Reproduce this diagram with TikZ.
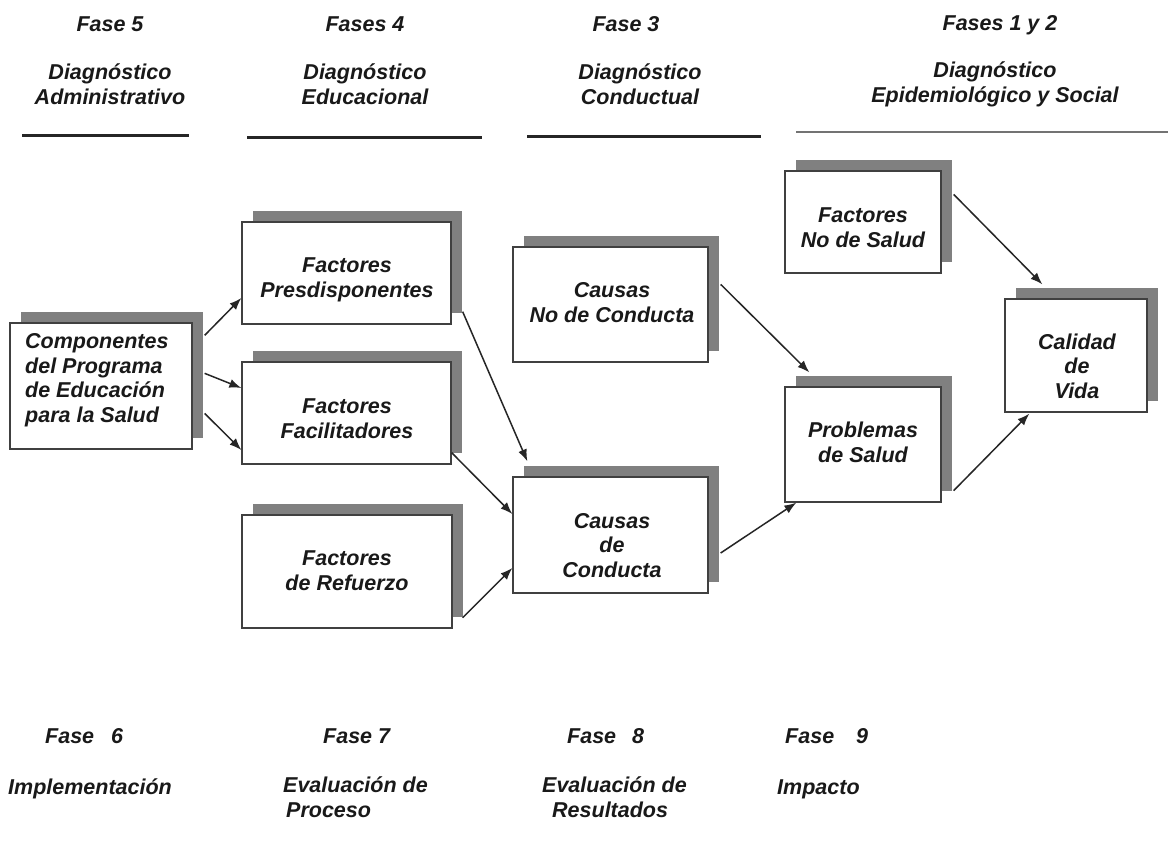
\documentclass[tikz,border=0pt]{standalone}
\usepackage{fontspec}
\setmainfont{Liberation Sans}
\usetikzlibrary{shadows,arrows.meta,calc}
\begin{document}
\begin{tikzpicture}[x=1pt,y=-1pt,
  txt/.style={font=\fontsize{21.5}{24.5}\selectfont\bfseries\itshape, inner sep=0pt, text=black!90},
  box/.style={draw=black!75, line width=1.3pt, fill=white, inner sep=0pt,
    general shadow={fill=black!50, shadow xshift=11pt, shadow yshift=11pt}},
  arr/.style={line width=1.5pt, draw=black!85, -{Latex[length=12pt,width=9pt]}},
  rulebar/.style={line width=3pt, draw=black!85},
]
\useasboundingbox (0,0) rectangle (1168,841);
\fill[white] (0,0) rectangle (1168,841);

% header
\node[txt, anchor=base] (h5) at (110,31) {Fase 5};
\node[txt, anchor=base, align=center] (d5) at (110,104) {Diagnóstico\\Administrativo};
\node[txt, anchor=base] (h4) at (365,31) {Fases 4};
\node[txt, anchor=base, align=center] (d4) at (365,104) {Diagnóstico\\Educacional};
\node[txt, anchor=base] (h3) at (626,31) {Fase 3};
\node[txt, anchor=base, align=center] (d3) at (640,104) {Diagnóstico\\Conductual};
\node[txt, anchor=base] (h12) at (1000,30) {Fases 1 y 2};
\node[txt, anchor=base, align=center] (d12) at (995,102) {Diagnóstico\\Epidemiológico y Social};

\coordinate (l1a) at (22,135); \coordinate (l1b) at (189,135);
\coordinate (l2a) at (247,137); \coordinate (l2b) at (482,137);
\coordinate (l3a) at (527,136); \coordinate (l3b) at (761,136);
\coordinate (l4a) at (796,132); \coordinate (l4b) at (1168,132);
\draw[rulebar] (l1a) -- (l1b);
\draw[rulebar] (l2a) -- (l2b);
\draw[rulebar] (l3a) -- (l3b);
\draw[line width=2pt, draw=black!55] (l4a) -- (l4b);

% boxes
\node[box, minimum width=182pt, minimum height=126pt] (comp) at (101,386) {};
\node[box, minimum width=209pt, minimum height=102pt] (pres) at (346.5,273) {};
\node[box, minimum width=209pt, minimum height=102pt] (faci) at (346.5,413) {};
\node[box, minimum width=210pt, minimum height=113pt] (refu) at (347,571.5) {};
\node[box, minimum width=195pt, minimum height=115pt] (cnc) at (610.5,304.5) {};
\node[box, minimum width=195pt, minimum height=116pt] (cdc) at (610.5,535) {};
\node[box, minimum width=156pt, minimum height=102pt] (fns) at (863,222) {};
\node[box, minimum width=156pt, minimum height=115pt] (prob) at (863,444.5) {};
\node[box, minimum width=142pt, minimum height=113pt] (cal) at (1076,355.5) {};

% box texts (anchor base = baseline of last line)
\node[txt, anchor=base west, align=left] (comp-t) at (25,422) {Componentes\\del Programa\\de Educación\\para la Salud};
\node[txt, anchor=base, align=center] (pres-t) at (347,297) {Factores\\Presdisponentes};
\node[txt, anchor=base, align=center] (faci-t) at (347,438) {Factores\\Facilitadores};
\node[txt, anchor=base, align=center] (refu-t) at (347,590) {Factores\\de Refuerzo};
\node[txt, anchor=base, align=center] (cnc-t) at (612,322) {Causas\\No de Conducta};
\node[txt, anchor=base, align=center] (cdc-t) at (612,577) {Causas\\de\\Conducta};
\node[txt, anchor=base, align=center] (fns-t) at (863,247) {Factores\\No de Salud};
\node[txt, anchor=base, align=center] (prob-t) at (863,462) {Problemas\\de Salud};
\node[txt, anchor=base, align=center] (cal-t) at (1077,398) {Calidad\\de\\Vida};

% arrows
\draw[arr] ([shift={(12,13)}]comp.north east) -- ([shift={(0,25)}]pres.west);
\draw[arr] ([shift={(12,51)}]comp.north east) -- ([shift={(0,-25)}]faci.west);
\draw[arr] ([shift={(12,91)}]comp.north east) -- ([shift={(0,37)}]faci.west);
\draw[arr] ([shift={(11,-13)}]pres.south east) -- ([shift={(15,-15)}]cdc.north west);
\draw[arr] ([shift={(0,-12)}]faci.south east) -- ([shift={(0,-21)}]cdc.west);
\draw[arr] ([shift={(10,-11)}]refu.south east) -- ([shift={(0,33)}]cdc.west);
\draw[arr] ([shift={(12,38)}]cnc.north east) -- ([shift={(25,-14)}]prob.north west);
\draw[arr] ([shift={(12,18)}]cdc.east) -- ([shift={(12,0)}]prob.south west);
\draw[arr] ([shift={(12,24)}]fns.north east) -- ([shift={(38,-14)}]cal.north west);
\draw[arr] ([shift={(12,-12)}]prob.south east) -- ([shift={(25,1)}]cal.south west);

% footer
\node[txt, anchor=base west] (f6) at (45,743) {Fase\hspace{17pt}6};
\node[txt, anchor=base west] (i6) at (8,794) {Implementación};
\node[txt, anchor=base west] (f7) at (323,743) {Fase 7};
\node[txt, anchor=base west, align=left] (i7) at (283,817) {Evaluación de\\\hspace{3pt}Proceso};
\node[txt, anchor=base west] (f8) at (567,743) {Fase\hspace{16pt}8};
\node[txt, anchor=base west, align=left] (i8) at (542,817) {Evaluación de\\\hspace{10pt}Resultados};
\node[txt, anchor=base west] (f9) at (785,743) {Fase\hspace{22pt}9};
\node[txt, anchor=base west] (i9) at (777,794) {Impacto};
\end{tikzpicture}
\end{document}
